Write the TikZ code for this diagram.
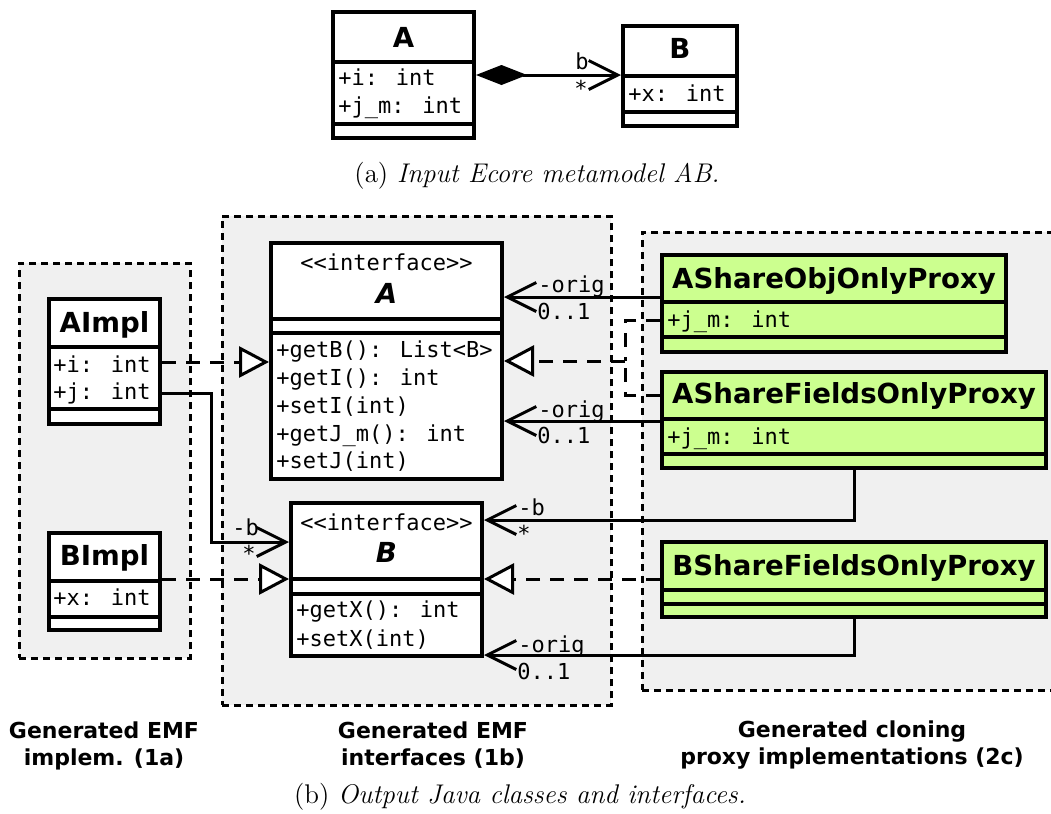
\documentclass[tikz,border=0pt]{standalone}
\usepackage{fontspec}
\newfontfamily\monof{DejaVu Sans Mono}
\newfontfamily\sansf{DejaVu Sans}
\usetikzlibrary{arrows.meta,fit}
\definecolor{grpfill}{HTML}{F0F0F0}
\definecolor{proxyfill}{HTML}{CCFF8F}
\tikzset{
  boxline/.style={line width=2pt},
  grp/.style={draw, fill=grpfill, line width=1.5pt, dash pattern=on 3.5pt off 2.5pt},
  mono/.style={font=\fontsize{11}{13}\monof, inner sep=0pt},
  ttl/.style={font=\fontsize{13.8}{16}\sansf\bfseries, inner sep=0pt},
  ittl/.style={font=\fontsize{13.8}{16}\sansf\bfseries\itshape, inner sep=0pt},
  grplab/.style={font=\fontsize{11}{13.5}\sansf\bfseries, inner sep=0pt},
  capt/.style={font=\fontsize{13.5}{16}\selectfont, inner sep=0pt},
  conn/.style={line width=1.5pt},
  assoc/.style={conn, -{Straight Barb[length=14.5pt,width=14.5pt,line width=1.5pt]}},
  realize/.style={conn, dash pattern=on 7pt off 5pt, -{Triangle[open,length=15pt,width=15.5pt,line width=1.5pt,fill=white]}},
  umlbox/.style={draw, boxline, inner sep=0pt},
}
\newcommand\mkbox[6]{\node[umlbox, fill=#6, fit={(#2,#3) (#4,#5)}] (#1) {};}
\newcommand\divl[2]{\draw[boxline] (#1.west |- 0,#2) -- (#1.east |- 0,#2);}
\begin{document}
\begin{tikzpicture}[x=0.5pt,y=-0.5pt]
\useasboundingbox (0,0) rectangle (1051,814);
% ---------- (a) ----------
\mkbox{tA}{333}{12}{474}{138}{white}
\divl{tA}{62}\divl{tA}{124}
\node[ttl, anchor=base] (tAn) at (403.5,47) {A};
\node[mono, anchor=base west] (tAa1) at (338,85) {+i: int};
\node[mono, anchor=base west] (tAa2) at (338,113) {+j\_m: int};
\mkbox{tB}{623}{26}{737}{126}{white}
\divl{tB}{76}\divl{tB}{112}
\node[ttl, anchor=base] (tBn) at (680,58) {B};
\node[mono, anchor=base west] (tBa1) at (628,101) {+x: int};
\draw[conn, {Diamond[length=25.5pt,width=10pt]}-{Straight Barb[length=14.5pt,width=14.5pt,line width=1.5pt]}] (tA.east |- 0,75) -- (tB.west |- 0,75);
\node[mono, anchor=base west] (lb) at (575,69) {b};
\node[mono] (ls) at (581,88) {*};
\node[capt, anchor=base] (capa) at (537,182) {(a) \textit{Input Ecore metamodel AB.}};
% ---------- groups ----------
\node[grp, inner sep=0pt, fit={(19,263) (190,658)}] (g1) {};
\node[grp, inner sep=0pt, fit={(222,216) (611,705)}] (g2) {};
\node[grp, inner sep=0pt, fit={(642,232) (1075,690)}] (g3) {};
% ---------- AImpl / BImpl ----------
\mkbox{AI}{49}{299}{160}{424}{white}
\divl{AI}{347}\divl{AI}{409}
\node[ttl, anchor=base] (AIn) at (104.5,332) {AImpl};
\node[mono, anchor=base west] (AIa1) at (53,372) {+i: int};
\node[mono, anchor=base west] (AIa2) at (53,399) {+j: int};
\mkbox{BI}{49}{533}{160}{630}{white}
\divl{BI}{581}\divl{BI}{617}
\node[ttl, anchor=base] (BIn) at (104.5,565) {BImpl};
\node[mono, anchor=base west] (BIa1) at (53,605) {+x: int};
% ---------- interface A ----------
\mkbox{IA}{271}{243}{502}{479}{white}
\divl{IA}{319}\divl{IA}{333}
\node[mono, anchor=base] (IAs) at (386.5,270) {<<interface>>};
\node[ittl, anchor=base] (IAn) at (386.5,303) {A};
\node[mono, anchor=base west] (IAm1) at (276,357) {+getB(): List<B>};
\node[mono, anchor=base west] (IAm2) at (276,385) {+getI(): int};
\node[mono, anchor=base west] (IAm3) at (276,413) {+setI(int)};
\node[mono, anchor=base west] (IAm4) at (276,441) {+getJ\_m(): int};
\node[mono, anchor=base west] (IAm5) at (276,468) {+setJ(int)};
% ---------- interface B ----------
\mkbox{IB}{291}{503}{482}{656}{white}
\divl{IB}{579}\divl{IB}{594}
\node[mono, anchor=base] (IBs) at (386.5,530) {<<interface>>};
\node[ittl, anchor=base] (IBn) at (386.5,562) {B};
\node[mono, anchor=base west] (IBm1) at (296,617) {+getX(): int};
\node[mono, anchor=base west] (IBm2) at (296,646) {+setX(int)};
% ---------- proxies ----------
\mkbox{PO}{662}{255}{1006}{352}{proxyfill}
\divl{PO}{302}\divl{PO}{337}
\node[ttl, anchor=base] (POn) at (834,288) {AShareObjOnlyProxy};
\node[mono, anchor=base west] (POa) at (667,327) {+j\_m: int};
\mkbox{PF}{662}{372}{1046}{468}{proxyfill}
\divl{PF}{419}\divl{PF}{454}
\node[ttl, anchor=base] (PFn) at (854,403) {AShareFieldsOnlyProxy};
\node[mono, anchor=base west] (PFa) at (667,444) {+j\_m: int};
\mkbox{PB}{662}{542}{1046}{617}{proxyfill}
\divl{PB}{590}\divl{PB}{604}
\node[ttl, anchor=base] (PBn) at (854,575) {BShareFieldsOnlyProxy};
% ---------- connectors ----------
\coordinate (jn) at (625,361);
\draw[assoc] (PO.west |- 0,297) -- (IA.east |- 0,297);
\node[mono, anchor=base west] (o1) at (538,292) {-orig};
\node[mono, anchor=base west] (m1) at (537,319) {0..1};
\draw[assoc] (PF.west |- 0,421) -- (IA.east |- 0,421);
\node[mono, anchor=base west] (o2) at (538,417) {-orig};
\node[mono, anchor=base west] (m2) at (537,443) {0..1};
\draw[conn, dash pattern=on 7pt off 5pt] (PO.west |- 0,320) -| (jn);
\draw[conn, dash pattern=on 7pt off 5pt] (PF.west |- 0,395) -| (jn);
\draw[realize] (jn) -- (IA.east |- jn);
\draw[realize] (PB.west |- 0,579) -- (IB.east |- 0,579);
\draw[assoc] (PF.south -| 854,0) |- (IB.east |- 0,520);
\node[mono, anchor=base west] (o3) at (518,515) {-b};
\node[mono] (m3) at (524,533) {*};
\draw[assoc] (PB.south -| 854,0) |- (IB.east |- 0,655);
\node[mono, anchor=base west] (o4) at (518,652) {-orig};
\node[mono, anchor=base west] (m4) at (517,679) {0..1};
\draw[realize] (AI.east |- 0,362) -- (IA.west |- 0,362);
\draw[assoc] (AI.east |- 0,393) -| (211,470) |- (IB.west |- 0,542);
\node[mono, anchor=base west] (o5) at (232,535) {-b};
\node[mono] (m5) at (249,553) {*};
\draw[realize] (BI.east |- 0,579) -- (IB.west |- 0,579);
% ---------- group labels ----------
\node[grplab, anchor=base] (gl1a) at (104,738) {Generated EMF};
\node[grplab, anchor=base] (gl1b) at (104,765) {implem. (1a)};
\node[grplab, anchor=base] (gl2a) at (433,738) {Generated EMF};
\node[grplab, anchor=base] (gl2b) at (433,765) {interfaces (1b)};
\node[grplab, anchor=base] (gl3a) at (852,737) {Generated cloning};
\node[grplab, anchor=base] (gl3b) at (852,764) {proxy implementations (2c)};
\node[capt, anchor=base] (capb) at (520,803) {(b) \textit{Output Java classes and interfaces.}};
\end{tikzpicture}
\end{document}
